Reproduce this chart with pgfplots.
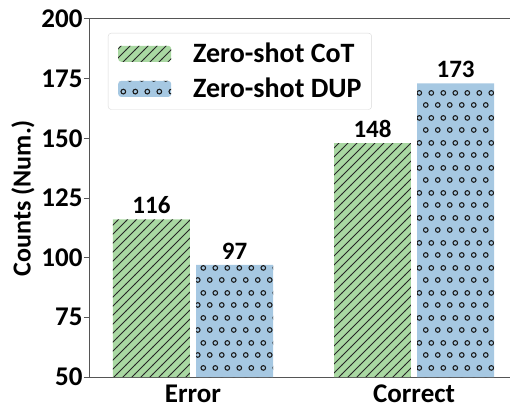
\documentclass[border=0pt]{standalone}
\usepackage{pgfplots}
\pgfplotsset{compat=1.18}
\usepackage{fontspec}
\setmainfont{Carlito}
\usetikzlibrary{patterns}
\definecolor{cotgreen}{HTML}{A9D8A2}
\definecolor{dupblue}{HTML}{A6C8E2}
\definecolor{axgray}{HTML}{555555}
\pgfdeclarepatternformonly{myhatch}{\pgfqpoint{-1pt}{-1pt}}{\pgfqpoint{10pt}{10pt}}{\pgfqpoint{9pt}{9pt}}{%
  \pgfsetlinewidth{0.8pt}%
  \pgfpathmoveto{\pgfqpoint{-0.2pt}{-0.2pt}}%
  \pgfpathlineto{\pgfqpoint{9.2pt}{9.2pt}}%
  \pgfusepath{stroke}}
\pgfdeclarepatternformonly{mydots}{\pgfqpoint{0pt}{0pt}}{\pgfqpoint{11.5pt}{25pt}}{\pgfqpoint{11.5pt}{25pt}}{%
  \pgfsetlinewidth{1.1pt}%
  \pgfpathcircle{\pgfqpoint{2.875pt}{6.25pt}}{2.4pt}%
  \pgfpathcircle{\pgfqpoint{8.625pt}{18.75pt}}{2.4pt}%
  \pgfusepath{stroke}}
\newcommand{\legfont}{\fontsize{28}{30}\selectfont\bfseries}
\begin{document}
\begin{tikzpicture}
\useasboundingbox (-90pt,-33pt) rectangle (420pt,377pt);
\begin{axis}[
  at={(0,0)}, anchor=south west,
  scale only axis, width=420pt, height=358pt,
  xmin=-0.466, xmax=1.434, ymin=50, ymax=200,
  ytick={50,75,...,200},
  xtick={0,1}, xticklabels={Error,Correct},
  axis x line*=box, axis y line*=left,
  axis line style={axgray, line width=1pt},
  x axis line style={-}, y axis line style={-},
  major x tick style={draw=none},
  major y tick style={axgray, line width=1pt},
  tick align=outside, major tick length=6pt,
  yticklabel style={font=\fontsize{27}{29}\selectfont\bfseries, xshift=2pt},
  xticklabel style={font=\fontsize{27}{29}\selectfont\bfseries, inner sep=0pt, yshift=-2pt},
  /pgf/number format/assume math mode=true,
  ylabel={Counts (Num.)},
  ylabel style={font=\fontsize{26}{28}\selectfont\bfseries, yshift=0pt},
  ybar, bar width=0.348,
  nodes near coords,
  every node near coord/.append style={font=\fontsize{25}{27}\selectfont\bfseries, black, yshift=2pt},
  legend style={at={(18pt,344pt)}, anchor=north west, draw=black!15, rounded corners=3pt,
    font=\legfont, nodes={font=\legfont, inner sep=0pt},
    row sep=14pt, inner xsep=10pt, inner ysep=10pt,
    /tikz/every odd column/.append style={column sep=22pt}},
  legend image code/.code={\draw[#1, draw=none] (0pt,-8pt) rectangle (53pt,8pt);},
  legend cell align=left,
]
\addplot[bar shift=-0.188, fill=cotgreen, draw=none, postaction={pattern=myhatch, pattern color=black!85}]
  coordinates {(0,116) (1,148)};
\addlegendentry{Zero-shot CoT}
\addplot[bar shift=0.188, fill=dupblue, draw=none, postaction={pattern=mydots, pattern color=black!90}]
  coordinates {(0,97) (1,173)};
\addlegendentry{Zero-shot DUP}
\end{axis}
\end{tikzpicture}
\end{document}
